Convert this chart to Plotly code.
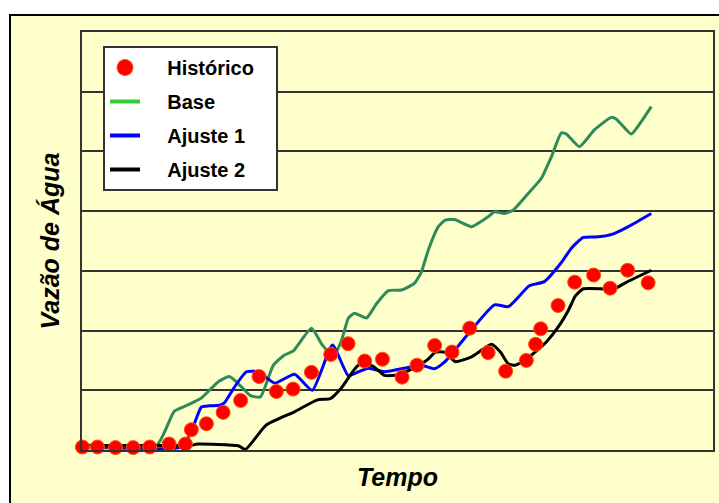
import plotly.graph_objects as go

# ---- data (time units, flow units) ----
hist_t = [0.04, 0.90, 1.93, 2.94, 3.88, 4.99, 5.92, 6.26, 7.12, 8.07, 9.07, 10.12, 11.11, 12.06,
          13.11, 14.21, 15.20, 16.15, 17.16, 18.28, 19.13, 20.14, 21.13, 22.14, 23.19, 24.19,
          25.37, 25.90, 26.19, 27.18, 28.13, 29.21, 30.15, 31.15, 32.32]
hist_v = [0.05, 0.05, 0.04, 0.04, 0.05, 0.10, 0.10, 0.34, 0.44, 0.63, 0.83, 1.23, 0.98, 1.02,
          1.30, 1.60, 1.78, 1.49, 1.52, 1.22, 1.42, 1.75, 1.64, 2.04, 1.63, 1.32,
          1.50, 1.77, 2.03, 2.42, 2.81, 2.93, 2.71, 3.01, 2.80]

base_t = [0, 4.26, 5.29, 6.03, 6.83, 7.78, 8.43, 9.11, 9.63, 10.20, 10.94, 11.57, 12.08, 13.11,
          13.73, 14.36, 14.82, 15.22, 15.56, 16.25, 16.82, 17.50, 18.24, 18.98, 19.38, 19.78,
          20.35, 20.75, 21.27, 22.24, 23.21, 23.55, 24.12, 24.63, 25.49, 26.23, 26.80, 27.37,
          27.66, 28.40, 29.25, 30.22, 30.51, 31.36, 31.93, 32.50]
base_v = [0.05, 0.07, 0.65, 0.75, 0.87, 1.14, 1.23, 1.06, 0.91, 0.89, 1.42, 1.59, 1.66, 2.04,
          1.76, 1.57, 1.83, 2.21, 2.29, 2.21, 2.45, 2.67, 2.68, 2.79, 2.98, 3.35,
          3.74, 3.85, 3.86, 3.74, 3.91, 3.99, 3.96, 4.02, 4.30, 4.55, 4.91, 5.31,
          5.29, 5.08, 5.36, 5.57, 5.54, 5.29, 5.50, 5.75]

aj1_t = [0, 5.69, 6.26, 6.83, 7.29, 7.86, 8.14, 8.71, 9.40, 10.08, 11.01, 12.15, 13.16, 14.31,
         15.22, 15.79, 16.36, 17.27, 18.24, 19.38, 20.12, 20.70, 23.55, 24.35, 25.54, 26.40,
         27.37, 27.94, 28.62, 29.48, 30.34, 31.19, 32.50]
aj1_v = [0.07, 0.05, 0.31, 0.72, 0.74, 0.75, 0.79, 1.05, 1.31, 1.31, 1.12, 1.27, 1.00, 1.76,
         1.24, 1.31, 1.37, 1.31, 1.36, 1.42, 1.36, 1.47, 2.43, 2.40, 2.75, 2.82,
         3.14, 3.38, 3.56, 3.57, 3.62, 3.74, 3.96]

aj2_t = [0, 6.26, 6.60, 8.94, 9.34, 10.54, 12.14, 13.45, 14.19, 14.82, 15.79, 16.59, 17.27,
         18.07, 18.93, 19.72, 20.18, 20.70, 21.32, 22.24, 23.38, 23.89, 24.35, 24.75, 25.54,
         26.51, 27.26, 27.77, 28.17, 28.62, 30.39, 31.02, 32.50]
aj2_v = [0.08, 0.08, 0.10, 0.07, 0.01, 0.42, 0.64, 0.84, 0.86, 1.04, 1.42, 1.41, 1.25,
         1.26, 1.37, 1.51, 1.64, 1.64, 1.48, 1.56, 1.77, 1.64, 1.44, 1.42, 1.56,
         1.81, 2.09, 2.34, 2.58, 2.70, 2.70, 2.80, 3.01]

FONT = "Arial, 'Liberation Sans', Helvetica, sans-serif"
GREEN_LINE = "#2E8B57"
GREEN_LEG = "#33CC33"

fig = go.Figure()
fig.add_trace(go.Scatter(x=base_t, y=base_v, mode="lines", showlegend=False,
                         line=dict(color=GREEN_LINE, width=3, shape="spline", smoothing=0.5)))
fig.add_trace(go.Scatter(x=aj1_t, y=aj1_v, mode="lines", showlegend=False,
                         line=dict(color="#0000FF", width=3, shape="spline", smoothing=0.5)))
fig.add_trace(go.Scatter(x=aj2_t, y=aj2_v, mode="lines", showlegend=False,
                         line=dict(color="#000000", width=3, shape="spline", smoothing=0.5)))
fig.add_trace(go.Scatter(x=hist_t, y=hist_v, mode="markers", showlegend=False, cliponaxis=False,
                         marker=dict(color="#FF0000", size=14, line=dict(color="#FF5500", width=1))))

# legend entries
NB = "\u00a0" * 4
TR = "\u00a0" * 3
fig.add_trace(go.Scatter(x=[None], y=[None], mode="markers", name=NB + "Histórico" + TR, legendgroup="a",
                         marker=dict(color="#FF0000", size=16, line=dict(color="#FF5500", width=1))))
fig.add_trace(go.Scatter(x=[None], y=[None], mode="lines", name=NB + "Base", legendgroup="b",
                         line=dict(color=GREEN_LEG, width=4)))
fig.add_trace(go.Scatter(x=[None], y=[None], mode="lines", name=NB + "Ajuste 1", legendgroup="c",
                         line=dict(color="#0000FF", width=4)))
fig.add_trace(go.Scatter(x=[None], y=[None], mode="lines", name=NB + "Ajuste 2", legendgroup="d",
                         line=dict(color="#000000", width=4)))

W, H = 719, 503
L, R, T, B = 82, 6, 32, 53
pw, ph = W - L - R, H - T - B

fig.add_shape(type="rect", xref="paper", yref="paper", layer="below",
              x0=(10 - L) / pw, x1=1.1, y0=-0.3, y1=(H - B - 15) / ph,
              fillcolor="#FFFFCC", line=dict(color="#000000", width=2))

fig.update_layout(
    width=W, height=H,
    margin=dict(l=L, r=R, t=T, b=B),
    paper_bgcolor="#FFFFFF",
    plot_bgcolor="#FFFFFF",
    font=dict(family=FONT, color="#000000"),
    showlegend=True,
    legend=dict(x=(103 - L) / pw, y=(H - B - 46) / ph, xanchor="left", yanchor="top",
                bgcolor="#FFFFFF", bordercolor="#333333", borderwidth=2,
                font=dict(family=FONT, size=20, color="#000000", weight="bold"),
                tracegroupgap=5, traceorder="grouped"),
    xaxis=dict(range=[0.02, 36.02], showgrid=False, zeroline=False, showticklabels=False, ticks="",
               showline=True, mirror=True, linecolor="#333333", linewidth=2, automargin=False,
               title=dict(text="<b><i>Tempo</i></b>", font=dict(size=25, family=FONT), standoff=17)),
    yaxis=dict(range=[0, 7], dtick=1, showgrid=True, gridcolor="#333333", gridwidth=2,
               zeroline=False, showticklabels=False, ticks="", automargin=False,
               showline=True, mirror=True, linecolor="#333333", linewidth=2,
               title=dict(text="<b><i>Vazão de Água</i></b>", font=dict(size=25, family=FONT), standoff=13)),
)

fig.write_html("out.html", config={"displayModeBar": False},
               post_script="document.body.style.margin='0px';document.body.style.padding='0px';")
